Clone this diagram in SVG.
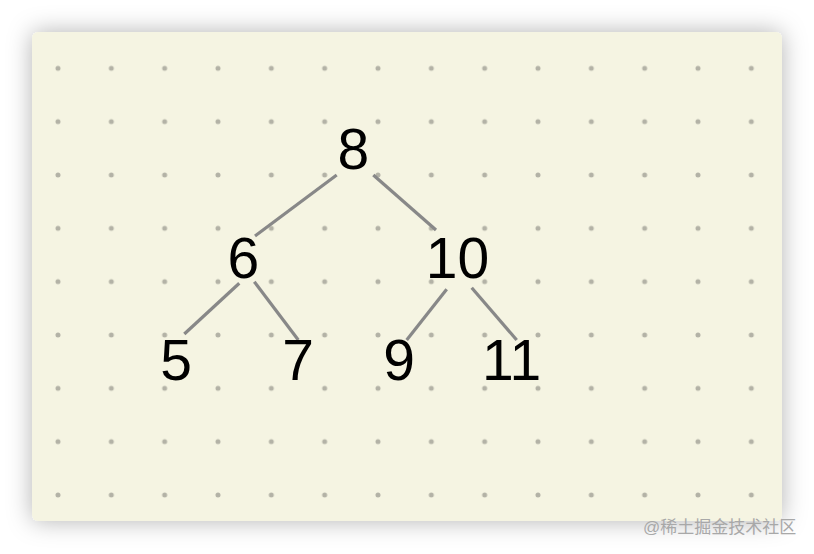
<svg xmlns="http://www.w3.org/2000/svg" width="814" height="554" viewBox="0 0 814 554">
<defs>
<filter id="sh" x="-10%" y="-15%" width="120%" height="130%">
<feDropShadow dx="0" dy="0" stdDeviation="12" flood-color="#000" flood-opacity="0.3"/>
</filter>
<pattern id="dots" x="0" y="0" width="53.333" height="53.333" patternUnits="userSpaceOnUse" patternTransform="translate(31.33 41.67)">
<circle cx="26.667" cy="26.667" r="2.5" fill="#b3b2a6"/>
</pattern>
</defs>
<style>
.n{font-family:"Liberation Sans",Arial,sans-serif;font-size:57px;fill:#000;text-anchor:middle}
.e{stroke:#888;stroke-width:3.2;stroke-linecap:butt;fill:none}
.wm{font-family:"Liberation Sans","Noto Sans CJK SC",sans-serif;font-size:17px;fill:#a8a8a8}
</style>
<rect width="814" height="554" fill="#fff"/>
<rect x="32" y="32" width="750" height="489" rx="6" fill="#f5f4e2" filter="url(#sh)"/>
<rect x="32" y="32" width="750" height="489" rx="6" fill="url(#dots)"/>
<g id="connectors">
<line class="e" x1="336.7" y1="175" x2="255" y2="236"/>
<line class="e" x1="373.3" y1="175" x2="436" y2="230"/>
<line class="e" x1="239.3" y1="283.3" x2="184.3" y2="334"/>
<line class="e" x1="254.3" y1="281.7" x2="298.3" y2="340"/>
<line class="e" x1="446.7" y1="289.3" x2="406.7" y2="340"/>
<line class="e" x1="471.7" y1="287.7" x2="516.7" y2="340"/>
</g>
<g id="n8"><text class="n" x="353.3" y="169">8</text></g>
<g id="n6"><text class="n" x="243.3" y="278">6</text></g>
<g id="n10"><text class="n" x="457.5" y="278">10</text></g>
<g id="n5"><text class="n" x="176" y="380">5</text></g>
<g id="n7"><text class="n" x="298" y="380">7</text></g>
<g id="n9"><text class="n" x="399" y="380">9</text></g>
<g id="n11"><text class="n" x="511.5" y="380">11</text></g>
<text class="wm" x="643" y="533">@稀土掘金技术社区</text>
</svg>
